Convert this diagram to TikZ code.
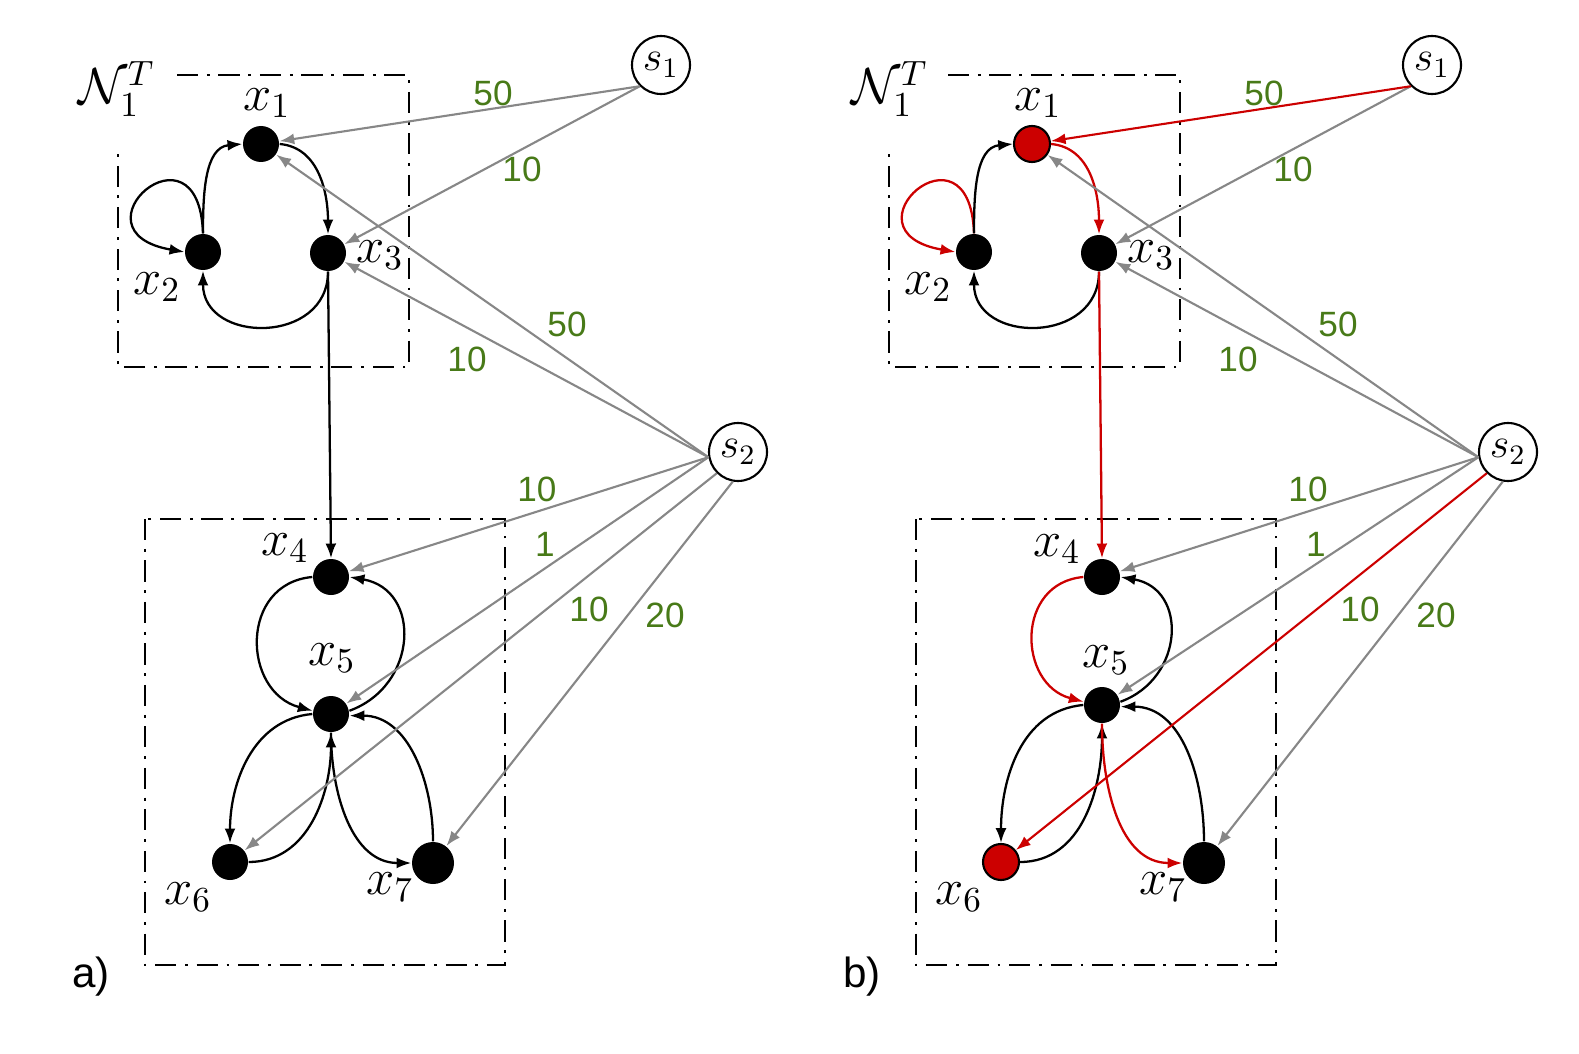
\documentclass[tikz,border=0pt]{standalone}
\usepackage{fontspec}
\usepackage{amsmath}
\usepackage{amssymb}
\usetikzlibrary{arrows.meta}
\newfontfamily\numfont{Liberation Sans}
\definecolor{wtgreen}{RGB}{72,122,24}
\definecolor{hlred}{RGB}{204,0,0}
\definecolor{edgegray}{RGB}{135,135,135}

\tikzset{
  vtx/.style={circle, fill=black, inner sep=0pt, minimum size=0.36cm},
  bigvtx/.style={vtx, minimum size=0.42cm},
  hlvtx/.style={vtx, fill=hlred, draw=black, line width=0.6pt},
  src/.style={circle, draw, line width=0.6pt, inner sep=0pt, minimum size=0.58cm, font=\large},
  wt/.style={text=wtgreen, font=\numfont},
  feed/.style={->, edgegray, line width=0.6pt},
  loc/.style={->, line width=0.65pt},
  grp/.style={line width=0.5pt, dash pattern=on 6pt off 2.5pt on 0.8pt off 2.5pt},
}

\begin{document}
\begin{tikzpicture}[>={Latex[length=4.2pt,width=3.1pt]}]
\useasboundingbox (0,0) rectangle (15.79,-10.54);

% a)
\begin{scope}[name prefix=a-]
% Groups
\draw[grp] (1.77,-0.75) -- (4.09,-0.75) -- (4.09,-3.67) -- (1.18,-3.67) -- (1.18,-1.47);
\draw[grp] (1.45,-5.19) rectangle (5.05,-9.65);
\node (n1) at (1.17,-0.89) {\Large $\mathcal{N}_1^T$};

% Nodes
\node[vtx] (x1) at (2.61,-1.44) {};
\node[vtx] (x2) at (2.03,-2.52) {};
\node[vtx] (x3) at (3.28,-2.53) {};
\node[vtx] (x4) at (3.31,-5.77) {};
\node[vtx] (x5) at (3.31,-7.14) {};
\node[vtx] (x6) at (2.30,-8.62) {};
\node[bigvtx] (x7) at (4.33,-8.63) {};
\node[src] (s1) at (6.61,-0.65) {$s_1$};
\node[src] (s2) at (7.38,-4.52) {$s_2$};

\node (l1) at (2.67,-1.03) {\Large $x_1$};
\node (l2) at (1.57,-2.87) {\Large $x_2$};
\node (l3) at (3.80,-2.55) {\Large $x_3$};
\node (l4) at (2.85,-5.48) {\Large $x_4$};
\node (l5) at (3.32,-6.58) {\Large $x_5$};
\node (l6) at (1.88,-8.97) {\Large $x_6$};
\node (l7) at (3.90,-8.87) {\Large $x_7$};

% Links
\draw[loc] (x2.north) .. controls +(92:1.2) and +(170:1.2) .. (x2.west);
\draw[loc] (x2.north) to[out=90,in=185] (x1.west);
\draw[loc] (x1.east) to[out=-5,in=90] (x3.north);
\draw[loc] (x3.south) to[out=-90,in=-90,looseness=1.5] (x2.south);
\draw[loc] (x3.south) -- (x4.north);
\draw[loc] (x4.west) to[out=185,in=165,looseness=1.4] (x5.170);
\draw[loc] (x5.10) to[out=20,in=-10,looseness=1.4] (x4.east);
\draw[loc] (x5.west) to[out=185,in=90] (x6.north);
\draw[loc] (x6.east) to[out=0,in=-90] (x5.south);
\draw[loc] (x5.south) to[out=-90,in=180] (x7.west);
\draw[loc] (x7.north) to[out=90,in=0] (x5.-5);

% Sources
\draw[feed] (s1.south west) -- (x1);
\draw[feed] (s1.south west) -- (x3);
\draw[feed] (s2.190) -- (x1);
\draw[feed] (s2.190) -- (x3);
\draw[feed] (s2.190) -- (x4);
\draw[feed] (s2.190) -- (x5);
\draw[feed] (s2.225) -- (x6);
\draw[feed] (s2.260) -- (x7);

\node[wt] (w1) at (4.93,-0.93) {50};
\node[wt] (w2) at (5.22,-1.69) {10};
\node[wt] (w3) at (5.67,-3.24) {50};
\node[wt] (w4) at (4.67,-3.59) {10};
\node[wt] (w5) at (5.37,-4.89) {10};
\node[wt] (w6) at (5.45,-5.44) {1};
\node[wt] (w7) at (5.89,-6.09) {10};
\node[wt] (w8) at (6.65,-6.15) {20};
\end{scope}

% b)
\begin{scope}[xshift=7.71cm, name prefix=b-]
% Groups
\draw[grp] (1.77,-0.75) -- (4.09,-0.75) -- (4.09,-3.67) -- (1.18,-3.67) -- (1.18,-1.47);
\draw[grp] (1.45,-5.19) rectangle (5.05,-9.65);
\node (n1) at (1.19,-0.89) {\Large $\mathcal{N}_1^T$};

% Nodes
\node[hlvtx] (x1) at (2.61,-1.44) {};
\node[vtx] (x2) at (2.03,-2.52) {};
\node[vtx] (x3) at (3.28,-2.53) {};
\node[vtx] (x4) at (3.31,-5.77) {};
\node[vtx] (x5) at (3.31,-7.05) {};
\node[hlvtx] (x6) at (2.30,-8.62) {};
\node[bigvtx] (x7) at (4.33,-8.63) {};
\node[src] (s1) at (6.61,-0.65) {$s_1$};
\node[src] (s2) at (7.37,-4.52) {$s_2$};

\node (l1) at (2.67,-1.03) {\Large $x_1$};
\node (l2) at (1.57,-2.87) {\Large $x_2$};
\node (l3) at (3.80,-2.55) {\Large $x_3$};
\node (l4) at (2.86,-5.49) {\Large $x_4$};
\node (l5) at (3.35,-6.60) {\Large $x_5$};
\node (l6) at (1.88,-8.97) {\Large $x_6$};
\node (l7) at (3.92,-8.87) {\Large $x_7$};

% Links
\draw[loc, hlred] (x2.north) .. controls +(92:1.2) and +(170:1.2) .. (x2.west);
\draw[loc] (x2.north) to[out=90,in=185] (x1.west);
\draw[loc, hlred] (x1.east) to[out=-5,in=90] (x3.north);
\draw[loc] (x3.south) to[out=-90,in=-90,looseness=1.5] (x2.south);
\draw[loc, hlred] (x3.south) -- (x4.north);
\draw[loc, hlred] (x4.west) to[out=185,in=165,looseness=1.4] (x5.170);
\draw[loc] (x5.10) to[out=20,in=-10,looseness=1.4] (x4.east);
\draw[loc] (x5.west) to[out=185,in=90] (x6.north);
\draw[loc] (x6.east) to[out=0,in=-90] (x5.south);
\draw[loc, hlred] (x5.south) to[out=-90,in=180] (x7.west);
\draw[loc] (x7.north) to[out=90,in=0] (x5.-5);

% Sources
\draw[feed] (s1.south west) -- (x3);
\draw[feed] (s2.190) -- (x1);
\draw[feed] (s2.190) -- (x3);
\draw[feed] (s2.190) -- (x4);
\draw[feed] (s2.190) -- (x5);
\draw[feed] (s2.260) -- (x7);
\draw[feed, hlred] (s1.south west) -- (x1);
\draw[feed, hlred] (s2.225) -- (x6);

\node[wt] (w1) at (4.93,-0.93) {50};
\node[wt] (w2) at (5.22,-1.69) {10};
\node[wt] (w3) at (5.67,-3.24) {50};
\node[wt] (w4) at (4.67,-3.59) {10};
\node[wt] (w5) at (5.37,-4.89) {10};
\node[wt] (w6) at (5.45,-5.44) {1};
\node[wt] (w7) at (5.89,-6.09) {10};
\node[wt] (w8) at (6.65,-6.15) {20};
\end{scope}

% Panel letters
\node[font=\numfont\large] (pa) at (0.91,-9.77) {a)};
\node[font=\numfont\large] (pb) at (8.62,-9.77) {b)};

\end{tikzpicture}
\end{document}
